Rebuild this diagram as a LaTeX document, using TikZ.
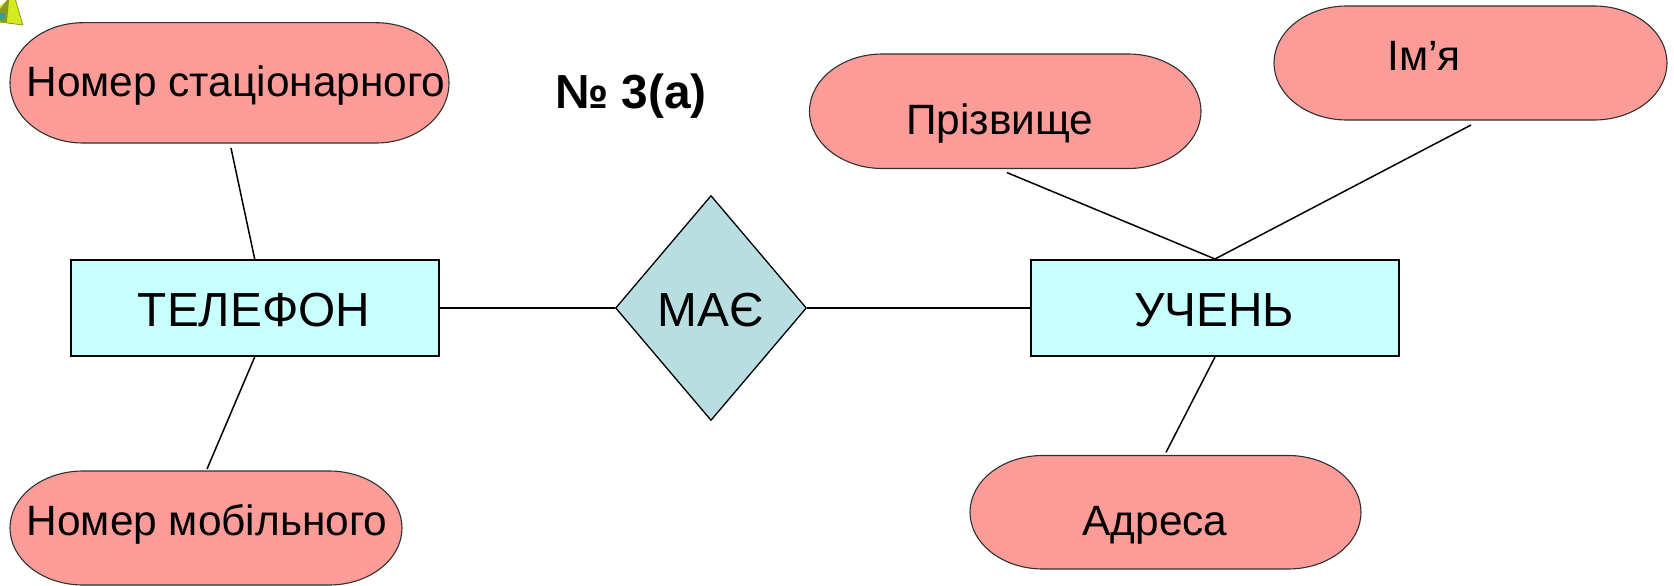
\documentclass[tikz,border=0pt]{standalone}
\usepackage{fontspec}
\setmainfont{Liberation Sans}
\usetikzlibrary{shapes.geometric}
\definecolor{pillfill}{HTML}{FC9C98}
\definecolor{boxfill}{HTML}{C8FFFF}
\definecolor{diafill}{HTML}{B9DEE2}
\definecolor{pillline}{HTML}{303030}
\definecolor{iconyellow}{HTML}{D6EA20}
\definecolor{iconedge}{HTML}{8A9A20}
\definecolor{iconteal}{HTML}{3E9A96}
\tikzset{
  pillshape/.style={draw=pillline,line width=1.1pt,fill=pillfill},
  lbl/.style={anchor=base,inner sep=0pt,font=\fontsize{42.4}{50}\selectfont},
  biglbl/.style={anchor=base,inner sep=0pt,font=\fontsize{47.8}{56}\selectfont},
  entity/.style={draw=black,line width=2pt,fill=boxfill,minimum width=368pt,minimum height=96pt,inner sep=0pt},
  rel/.style={draw=black,line width=1.3pt,fill=diafill,diamond,minimum width=191pt,minimum height=225pt,inner sep=0pt},
  thin link/.style={draw=black,line width=1.5pt},
  thick link/.style={draw=black,line width=2pt}
}
% pill: left, top, right, bottom
\newcommand{\pillpath}[4]{%
  \path[pillshape] (#1+73,#2) -- (#3-73,#2) arc[start angle=-90,end angle=0,x radius=73,y radius={(#4-#2)/2}]
    arc[start angle=0,end angle=90,x radius=73,y radius={(#4-#2)/2}]
    -- (#1+73,#4) arc[start angle=90,end angle=180,x radius=73,y radius={(#4-#2)/2}]
    arc[start angle=180,end angle=270,x radius=73,y radius={(#4-#2)/2}] -- cycle;}
\begin{document}
\begin{tikzpicture}[x=1pt,y=-1pt]
\useasboundingbox (0,0) rectangle (1674,586);
% corner icon
\fill[iconyellow] (8,0) -- (15.5,0) -- (22.8,25) -- (0,22) -- (0,6) -- cycle;
\fill[iconedge] (0,9) -- (7,0) -- (9,0) -- (7,22) -- (0,22) -- cycle;
\fill[iconteal] (0,13) rectangle (5,20);
\draw[iconedge,line width=.8pt] (15.5,0) -- (22.8,25) -- (0,22);
% attribute pills
\pillpath{10}{22.7}{449}{143}
\pillpath{10}{471}{402}{585}
\pillpath{809.5}{54}{1201}{168.5}
\pillpath{1274}{6}{1667}{120}
\pillpath{970}{455.5}{1361}{569}
\node[lbl] (stat) at (236,96.7) {Номер стаціонарного};
\node[lbl] (mob) at (207,535.6) {Номер мобільного};
\node[lbl] (prizv) at (1000,134) {Прізвище};
\node[lbl] (imya) at (1424,70.4) {Ім’я};
\node[lbl] (adr) at (1155,535.6) {Адреса};
\node[biglbl,font=\fontsize{47.8}{56}\selectfont\bfseries] (num) at (631,108.6) {№ 3(а)};
% entities and relationship
\node[entity] (tel) at (254.7,308) {};
\node[entity] (uch) at (1215,308) {};
\node[rel] (mae) at (711,308) {};
\node[biglbl] (telt) at (254,326) {ТЕЛЕФОН};
\node[biglbl] (ucht) at (1214,326) {УЧЕНЬ};
\node[biglbl] (maet) at (711,326) {МАЄ};
% free ends
\coordinate (e1) at (231,148);
\coordinate (e2) at (207,469);
\coordinate (e3) at (1007,172.6);
\coordinate (e4) at (1471,125);
\coordinate (e5) at (1166,452.4);
\draw[thin link] (e1) -- (tel.north);
\draw[thin link] (tel.south) -- (e2);
\draw[thin link] (e3) -- (uch.north);
\draw[thin link] (e4) -- (uch.north);
\draw[thin link] (uch.south) -- (e5);
\draw[thick link] (tel.east) -- (mae.west);
\draw[thick link] (mae.east) -- (uch.west);
\end{tikzpicture}
\end{document}
